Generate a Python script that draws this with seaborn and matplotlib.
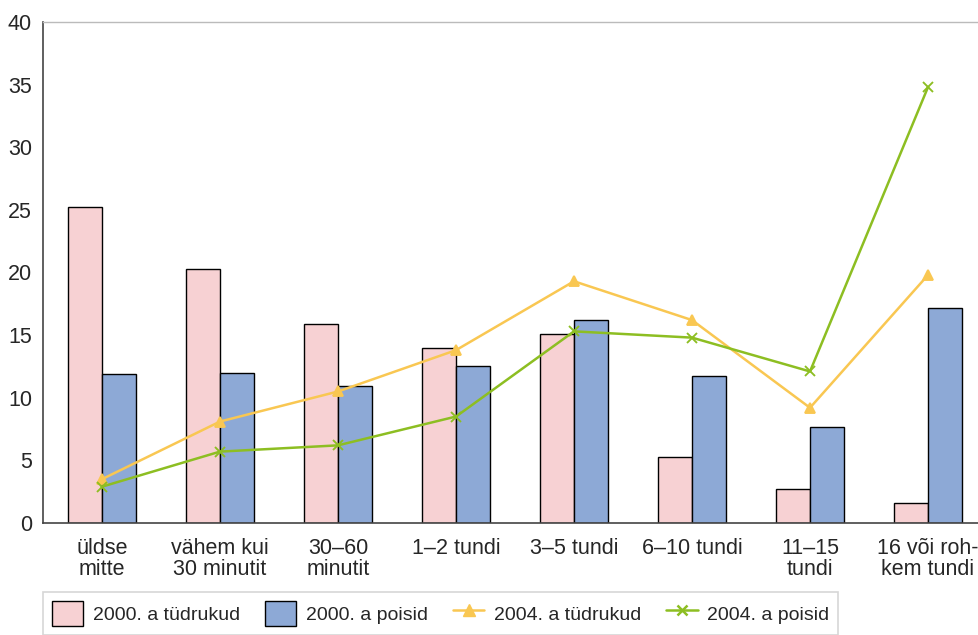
import numpy as np
import pandas as pd
import matplotlib
matplotlib.use("Agg")
import matplotlib.pyplot as plt
import seaborn as sns
from matplotlib.patches import Patch
from matplotlib.lines import Line2D

categories = ["üldse\nmitte", "vähem kui\n30 minutit", "30–60\nminutit", "1–2 tundi",
              "3–5 tundi", "6–10 tundi", "11–15\ntundi", "16 või roh-\nkem tundi"]
girls_2000 = [25.2, 20.3, 15.9, 14.0, 15.1, 5.3, 2.7, 1.6]
boys_2000 = [11.9, 12.0, 10.9, 12.5, 16.2, 11.7, 7.7, 17.2]
girls_2004 = [3.5, 8.1, 10.5, 13.8, 19.3, 16.2, 9.2, 19.8]
boys_2004 = [2.9, 5.7, 6.2, 8.5, 15.3, 14.8, 12.1, 34.8]
series_names = ["2000. a tüdrukud", "2000. a poisid", "2004. a tüdrukud", "2004. a poisid"]
y_ticks = [0, 5, 10, 15, 20, 25, 30, 35, 40]

c_pink = "#F7D1D3"
c_blue = "#8DA9D6"
c_yellow = "#F9C752"
c_green = "#8DBE22"

sns.set_style("white")
plt.rcParams['font.family'] = ['Liberation Sans', 'DejaVu Sans']

bars = pd.DataFrame({
    "cat": categories * 2,
    "val": girls_2000 + boys_2000,
    "series": [series_names[0]] * len(categories) + [series_names[1]] * len(categories),
})
lines = pd.DataFrame({
    "cat": categories * 2,
    "val": girls_2004 + boys_2004,
    "series": [series_names[2]] * len(categories) + [series_names[3]] * len(categories),
})

fig = plt.figure(figsize=(9.79, 6.35), dpi=100)
ax = fig.add_axes([43 / 979, 112 / 635, 944 / 979, 501 / 635])

sns.barplot(data=bars, x="cat", y="val", hue="series", order=categories,
            hue_order=series_names[:2], palette=[c_pink, c_blue], width=0.57,
            edgecolor="black", linewidth=1.0, saturation=1, ax=ax, legend=False)
sns.pointplot(data=lines, x="cat", y="val", hue="series", order=categories,
              hue_order=series_names[2:], palette=[c_yellow, c_green],
              markers=["^", "x"], linestyles=["-", "-"], markersize=7,
              linewidth=1.8, dodge=False, errorbar=None, ax=ax, legend=False)

ax.set_xlim(-0.5, len(categories) - 0.5)
ax.set_ylim(0, 40)
ax.set_yticks(y_ticks)
ax.set_yticklabels([str(t) for t in y_ticks], fontsize=15.5)
ax.set_xticks(np.arange(len(categories)))
ax.set_xticklabels(categories, fontsize=15.5, linespacing=1.0)
ax.tick_params(axis="x", length=0, pad=11)
ax.set_xticks(np.arange(len(categories) + 1) - 0.5, minor=True)
ax.tick_params(axis="x", which="minor", length=8, direction="inout", width=1, color="#333333")
ax.tick_params(axis="y", length=8, direction="inout", width=1, color="#333333", pad=4)
ax.set_xlabel("")
ax.set_ylabel("")
for s in ["left", "bottom"]:
    ax.spines[s].set_color("#444444")
    ax.spines[s].set_linewidth(1.2)
ax.spines["top"].set_color("#BBBBBB")
ax.spines["top"].set_linewidth(1.0)
ax.spines["right"].set_visible(False)

handles = [
    Patch(facecolor=c_pink, edgecolor="black", linewidth=1),
    Patch(facecolor=c_blue, edgecolor="black", linewidth=1),
    Line2D([0], [0], color=c_yellow, marker="^", markersize=8, linewidth=1.8),
    Line2D([0], [0], color=c_green, marker="x", markersize=7, linewidth=1.8, markeredgewidth=1.8),
]
leg = fig.legend(handles, series_names, loc="upper left", bbox_to_anchor=(43 / 979, 1 - 592 / 635),
                 ncol=4, fontsize=14, frameon=True, fancybox=False, handlelength=1.6,
                 handleheight=1.65, columnspacing=1.3, handletextpad=0.5, borderpad=0.45,
                 borderaxespad=0)
leg.get_frame().set_edgecolor("#CCCCCC")
leg.get_frame().set_linewidth(1.2)

fig.savefig("out.png", dpi=100)
